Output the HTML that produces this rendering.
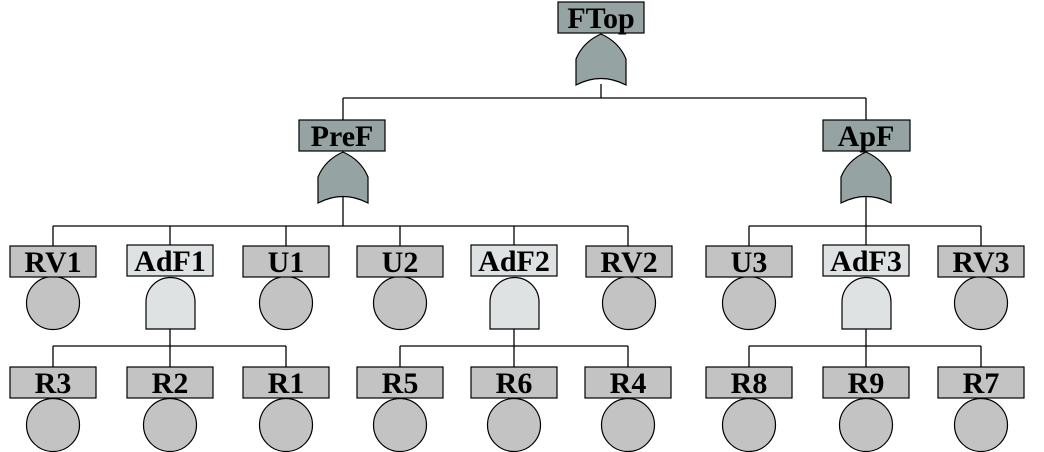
<!DOCTYPE html>
<html><head><meta charset="utf-8"><style>
html,body{margin:0;padding:0;background:#fff;}
svg{display:block;}
text{font-family:"Liberation Serif",serif;font-weight:bold;font-size:30px;text-anchor:middle;fill:#000;}
</style></head><body>
<svg width="1044" height="452" viewBox="0 0 1044 452" xmlns="http://www.w3.org/2000/svg">
<g stroke="#000" stroke-width="1.3" fill="none">
<line x1="601" y1="84" x2="601" y2="98"/>
<line x1="343" y1="98" x2="866" y2="98"/>
<line x1="343" y1="98" x2="343" y2="120"/>
<line x1="866" y1="98" x2="866" y2="120"/>
<line x1="343" y1="196" x2="343" y2="226"/>
<line x1="53" y1="226" x2="628" y2="226"/>
<line x1="866" y1="196" x2="866" y2="226"/>
<line x1="749" y1="226" x2="981" y2="226"/>
<line x1="53" y1="226" x2="53" y2="246"/>
<line x1="170" y1="226" x2="170" y2="246"/>
<line x1="286" y1="226" x2="286" y2="246"/>
<line x1="400" y1="226" x2="400" y2="246"/>
<line x1="514" y1="226" x2="514" y2="246"/>
<line x1="628" y1="226" x2="628" y2="246"/>
<line x1="749" y1="226" x2="749" y2="246"/>
<line x1="866" y1="226" x2="866" y2="246"/>
<line x1="981" y1="226" x2="981" y2="246"/>
<line x1="170" y1="329" x2="170" y2="346"/>
<line x1="53" y1="346" x2="286" y2="346"/>
<line x1="514" y1="329" x2="514" y2="346"/>
<line x1="400" y1="346" x2="628" y2="346"/>
<line x1="866" y1="329" x2="866" y2="346"/>
<line x1="749" y1="346" x2="981" y2="346"/>
<line x1="53" y1="346" x2="53" y2="367"/>
<line x1="170" y1="346" x2="170" y2="367"/>
<line x1="286" y1="346" x2="286" y2="367"/>
<line x1="400" y1="346" x2="400" y2="367"/>
<line x1="514" y1="346" x2="514" y2="367"/>
<line x1="628" y1="346" x2="628" y2="367"/>
<line x1="749" y1="346" x2="749" y2="367"/>
<line x1="866" y1="346" x2="866" y2="367"/>
<line x1="981" y1="346" x2="981" y2="367"/>
</g>
<g stroke="#000" stroke-width="1.2">
<path fill="#95a3a3" d="M601,34 Q619,42 626,59 L626,85 Q601,72 576,85 L576,59 Q583,42 601,34 Z"/>
<path fill="#95a3a3" d="M343,152 Q361,160 368,177 L368,203 Q343,190 318,203 L318,177 Q325,160 343,152 Z"/>
<path fill="#95a3a3" d="M866,152 Q884,160 891,177 L891,203 Q866,190 841,203 L841,177 Q848,160 866,152 Z"/>
<path fill="#dfe2e3" d="M146,329 L146,302 A24,24 0 0 1 195,302 L195,329 Z"/>
<path fill="#dfe2e3" d="M490,329 L490,302 A24,24 0 0 1 539,302 L539,329 Z"/>
<path fill="#dfe2e3" d="M842,329 L842,302 A24,24 0 0 1 891,302 L891,329 Z"/>
<g fill="#c3c3c3">
<circle cx="53" cy="303" r="26.5"/><circle cx="286" cy="303" r="26.5"/><circle cx="400" cy="303" r="26.5"/>
<circle cx="629" cy="303" r="26.5"/><circle cx="749" cy="303" r="26.5"/><circle cx="981" cy="303" r="26.5"/>
<circle cx="53" cy="425" r="26.5"/><circle cx="170" cy="425" r="26.5"/><circle cx="286" cy="425" r="26.5"/>
<circle cx="400" cy="425" r="26.5"/><circle cx="514" cy="425" r="26.5"/><circle cx="628" cy="425" r="26.5"/>
<circle cx="749" cy="425" r="26.5"/><circle cx="866" cy="425" r="26.5"/><circle cx="981" cy="425" r="26.5"/>
</g>
<rect x="558" y="2" width="86" height="31" fill="#95a3a3"/>
<rect x="299" y="120" width="86" height="31" fill="#95a3a3"/>
<rect x="823" y="120" width="87" height="31" fill="#95a3a3"/>
<g fill="#c3c3c3">
<rect x="10" y="246" width="86" height="31"/>
<rect x="243" y="246" width="86" height="31"/>
<rect x="357" y="246" width="86" height="31"/>
<rect x="586" y="246" width="86" height="31"/>
<rect x="706" y="246" width="86" height="31"/>
<rect x="938" y="246" width="86" height="31"/>
<rect x="10" y="367" width="86" height="31"/><rect x="127" y="367" width="86" height="31"/><rect x="243" y="367" width="86" height="31"/>
<rect x="357" y="367" width="86" height="31"/><rect x="471" y="367" width="86" height="31"/><rect x="585" y="367" width="86" height="31"/>
<rect x="706" y="367" width="86" height="31"/><rect x="823" y="367" width="86" height="31"/><rect x="938" y="367" width="86" height="31"/>
</g>
<g fill="#dfe2e3">
<rect x="127" y="245" width="86" height="31"/>
<rect x="471" y="245" width="86" height="31"/>
<rect x="823" y="245" width="86" height="31"/>
</g>
</g>
<text x="601" y="28">FTop</text>
<text x="342" y="146">PreF</text>
<text x="866" y="146">ApF</text>
<text x="53" y="272">RV1</text>
<text x="170" y="271">AdF1</text>
<text x="286" y="272">U1</text>
<text x="400" y="272">U2</text>
<text x="514" y="271">AdF2</text>
<text x="629" y="272">RV2</text>
<text x="749" y="272">U3</text>
<text x="866" y="271">AdF3</text>
<text x="981" y="272">RV3</text>
<text x="53" y="393">R3</text>
<text x="170" y="393">R2</text>
<text x="286" y="393">R1</text>
<text x="400" y="393">R5</text>
<text x="514" y="393">R6</text>
<text x="628" y="393">R4</text>
<text x="749" y="393">R8</text>
<text x="866" y="393">R9</text>
<text x="981" y="393">R7</text>
</svg>
</body></html>
